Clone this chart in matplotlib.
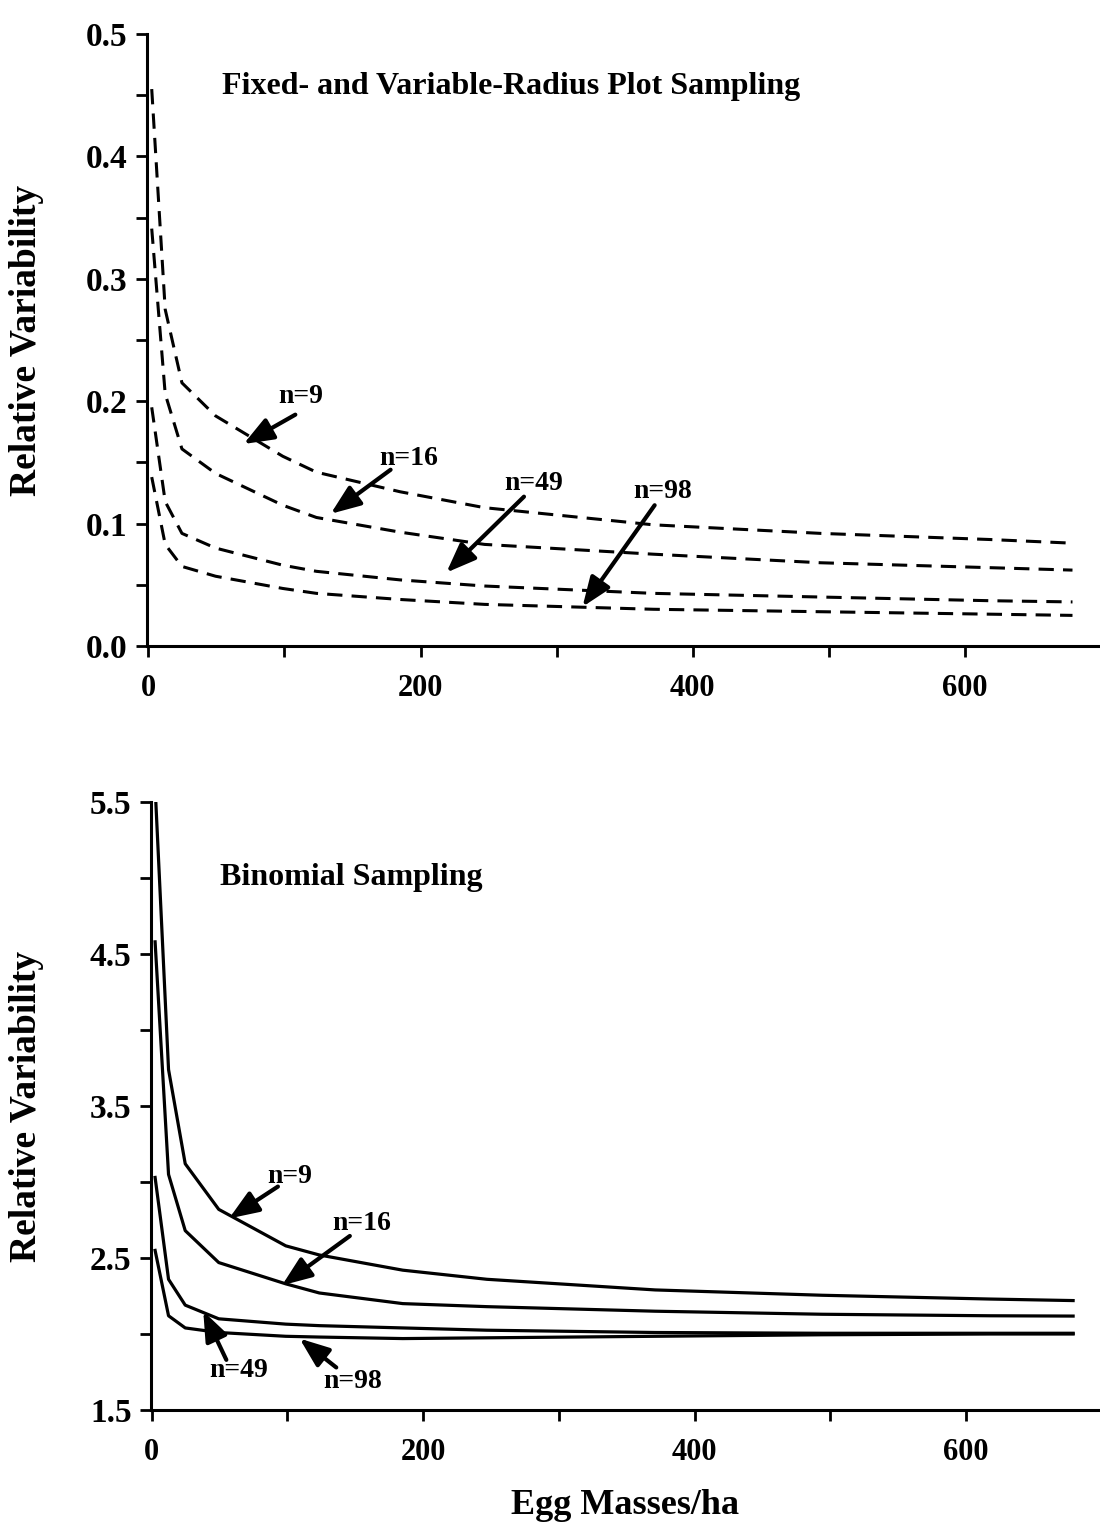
import matplotlib
matplotlib.use("Agg")
import matplotlib.pyplot as plt
from matplotlib.ticker import MultipleLocator, FixedLocator

plt.rcParams["font.family"] = ["Liberation Serif", "DejaVu Serif"]
plt.rcParams["font.weight"] = "bold"

# egg masses/ha (same grid for both panels)
egg_masses = [2.5, 12.4, 24.7, 49.4, 98.8, 123.5, 185, 247, 371, 494, 618, 679]

# fixed- and variable-radius plot sampling
plot_n9 = [0.455, 0.275, 0.215, 0.188, 0.155, 0.142, 0.126, 0.113, 0.099, 0.092, 0.087, 0.084]
plot_n16 = [0.341, 0.206, 0.161, 0.141, 0.115, 0.105, 0.093, 0.083, 0.075, 0.068, 0.064, 0.062]
plot_n49 = [0.195, 0.118, 0.092, 0.080, 0.066, 0.061, 0.054, 0.049, 0.043, 0.040, 0.037, 0.036]
plot_n98 = [0.138, 0.083, 0.065, 0.057, 0.047, 0.043, 0.038, 0.034, 0.030, 0.028, 0.026, 0.025]

# binomial sampling
binom_n9 = [5.6, 3.74, 3.12, 2.82, 2.58, 2.52, 2.42, 2.36, 2.29, 2.255, 2.23, 2.22]
binom_n16 = [4.58, 3.05, 2.68, 2.47, 2.33, 2.27, 2.20, 2.18, 2.15, 2.13, 2.12, 2.118]
binom_n49 = [3.03, 2.36, 2.19, 2.10, 2.065, 2.055, 2.04, 2.025, 2.01, 2.005, 2.005, 2.005]
binom_n98 = [2.55, 2.12, 2.04, 2.01, 1.985, 1.98, 1.97, 1.975, 1.985, 1.995, 2.0, 2.0]

binom_ticks = [1.5, 2.5, 3.5, 4.5, 5.5]
binom_minor = [2.0, 3.0, 4.0, 5.0]

labels = ["n=9", "n=16", "n=49", "n=98"]
# (label x, label y, arrow start x, arrow start y, tip x, tip y)
plot_notes = [(112, 0.204, 108, 0.189, 70, 0.165),
              (191, 0.153, 178, 0.144, 134, 0.108),
              (283, 0.133, 276, 0.122, 219, 0.060),
              (378, 0.126, 372, 0.115, 319, 0.032)]
binom_notes = [(102, 3.035, 93, 2.97, 57, 2.76),
               (155, 2.724, 146, 2.645, 96, 2.32),
               (64, 1.76, 55, 1.83, 38, 2.15),
               (148, 1.69, 136, 1.78, 109, 1.97)]


def style_axes(ax):
    for side in ("top", "right"):
        ax.spines[side].set_visible(False)
    for side in ("left", "bottom"):
        ax.spines[side].set_linewidth(2.2)
    ax.tick_params(which="both", direction="out", width=2, length=8)
    ax.tick_params(axis="y", labelsize=24, pad=6)
    ax.tick_params(axis="x", labelsize=22, pad=12)
    ax.xaxis.set_major_locator(MultipleLocator(200))
    ax.xaxis.set_minor_locator(MultipleLocator(100))
    ax.set_ylabel("Relative Variability", fontsize=27, fontweight="bold")


def add_notes(ax, notes):
    for text, (lx, ly, sx, sy, tx, ty) in zip(labels, notes):
        ax.text(lx, ly, text, fontsize=20, fontweight="bold", ha="center", va="center")
        ax.annotate("", xy=(tx, ty), xytext=(sx, sy),
                    arrowprops=dict(arrowstyle="-|>,head_length=0.9,head_width=0.35",
                                    lw=3, color="black", mutation_scale=20,
                                    shrinkA=0, shrinkB=0))


fig = plt.figure(figsize=(11, 15.25), dpi=100)

ax1 = fig.add_axes([0.1336, 0.5764, 0.8649, 0.4013])
for vals in (plot_n9, plot_n16, plot_n49, plot_n98):
    ax1.plot(egg_masses, vals, color="black", lw=2.2, linestyle=(0, (5, 3)))
ax1.set_xlim(-1, 698)
ax1.set_ylim(0, 0.5)
ax1.yaxis.set_major_locator(MultipleLocator(0.1))
ax1.yaxis.set_minor_locator(MultipleLocator(0.05))
ax1.yaxis.set_major_formatter(lambda v, p: f"{v:.1f}")
style_axes(ax1)
ax1.yaxis.set_label_coords(-0.108, 0.5)
ax1.text(0.079, 0.915, "Fixed- and Variable-Radius Plot Sampling", transform=ax1.transAxes,
         fontsize=23, fontweight="bold", va="center")
add_notes(ax1, plot_notes)

ax2 = fig.add_axes([0.1373, 0.0754, 0.8617, 0.3987])
for vals in (binom_n9, binom_n16, binom_n49, binom_n98):
    ax2.plot(egg_masses, vals, color="black", lw=2.3)
ax2.set_xlim(-0.5, 698)
ax2.set_ylim(1.5, 5.5)
ax2.yaxis.set_major_locator(FixedLocator(binom_ticks))
ax2.yaxis.set_minor_locator(FixedLocator(binom_minor))
ax2.yaxis.set_major_formatter(lambda v, p: f"{v:.1f}")
style_axes(ax2)
ax2.yaxis.set_label_coords(-0.113, 0.5)
ax2.set_xlabel("Egg Masses/ha", fontsize=26, fontweight="bold", labelpad=16)
ax2.text(0.073, 0.875, "Binomial Sampling", transform=ax2.transAxes,
         fontsize=23, fontweight="bold", va="center")
add_notes(ax2, binom_notes)

fig.savefig("out.png", dpi=100)
